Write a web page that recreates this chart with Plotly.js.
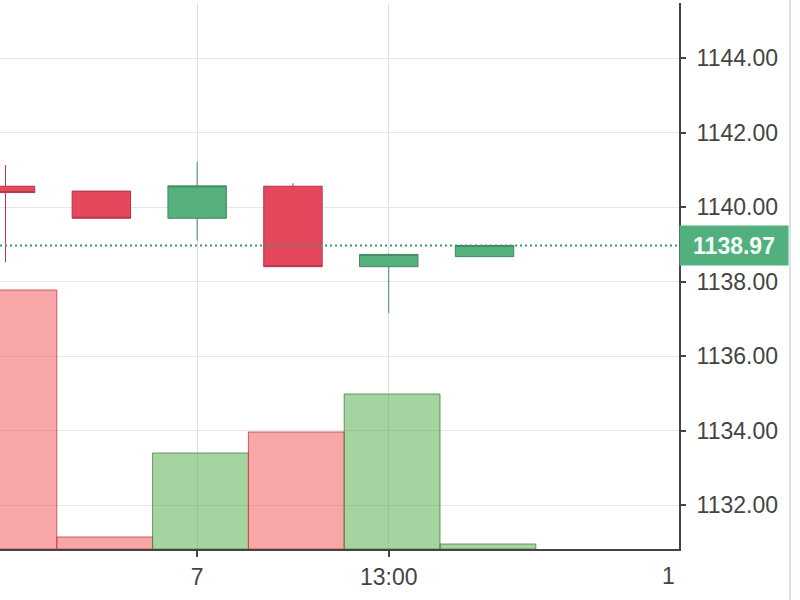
<!DOCTYPE html>
<html>
<head>
<meta charset="utf-8">
<script src="https://cdn.plot.ly/plotly-3.0.1.min.js"></script>
<style>
  html, body { margin: 0; padding: 0; background: #fff; }
  #graph { width: 800px; height: 600px; }
</style>
</head>
<body>
<div id="graph"></div>
<script>
// candle slots (index along the time axis)
var slots = [0, 1, 2, 3, 4, 5];
var open  = [1140.56, 1140.43, 1139.70, 1140.56, 1138.40, 1138.67];
var high  = [1141.13, 1140.43, 1141.21, 1140.64, 1138.75, 1138.97];
var low   = [1138.52, 1139.70, 1139.10, 1138.40, 1137.15, 1138.67];
var close = [1140.39, 1139.70, 1140.57, 1138.40, 1138.73, 1138.97];
var volume = [2590, 120, 960, 1170, 1550, 50];

var tickPos = [2, 4];
var tickText = ['7', '13:00'];
var edgePos = [6.92];
var edgeText = ['1'];
var priceTicks = [1132, 1134, 1136, 1138, 1140, 1142, 1144];
var lastPrice = close[close.length - 1];

var font = '"Liberation Sans", Arial, sans-serif';
var graph = document.getElementById('graph');

var volColors = [], volLines = [];
for (var i = 0; i < slots.length; i++) {
  var up = close[i] >= open[i];
  volColors.push(up ? 'rgba(76,170,66,0.5)' : 'rgba(240,80,80,0.5)');
  volLines.push(up ? 'rgba(70,130,60,0.8)' : 'rgba(200,60,60,0.8)');
}

var volTrace = {
  type: 'bar',
  x: slots,
  y: volume,
  width: 1,
  offset: -0.465,
  yaxis: 'y2',
  marker: { color: volColors, line: { color: volLines, width: 1 } },
  hoverinfo: 'skip'
};

var candles = {
  type: 'candlestick',
  x: slots,
  open: open,
  high: high,
  low: low,
  close: close,
  increasing: { fillcolor: '#55b07e', line: { color: '#3f8a60', width: 1 } },
  decreasing: { fillcolor: '#e5475c', line: { color: '#b0364a', width: 1 } },
  whiskerwidth: 0,
  hoverinfo: 'skip'
};

// invisible trace so the overlay axis with the edge label gets drawn
var edgeTrace = {
  type: 'scatter', x: edgePos, y: [lastPrice], xaxis: 'x2',
  mode: 'markers', marker: { opacity: 0 }, hoverinfo: 'skip'
};

var xr = [-0.058, 7.03];

var layout = {
  width: 800,
  height: 600,
  margin: { l: 0, r: 121, t: 3, b: 51 },
  paper_bgcolor: '#fff',
  plot_bgcolor: '#fff',
  showlegend: false,
  boxgap: 0.39,
  boxgroupgap: 0,
  font: { family: font, size: 23, color: '#444' },
  xaxis: {
    type: 'linear',
    range: xr,
    tickvals: tickPos,
    ticktext: tickText,
    ticks: 'outside',
    ticklen: 6,
    tickwidth: 2,
    tickcolor: '#444',
    showline: true,
    linecolor: '#444',
    linewidth: 2,
    showgrid: true,
    gridcolor: '#d8e3e8',
    gridwidth: 1,
    zeroline: false,
    rangeslider: { visible: false },
    fixedrange: true
  },
  xaxis2: {
    type: 'linear',
    range: xr,
    overlaying: 'x',
    anchor: 'y',
    side: 'bottom',
    tickvals: edgePos,
    ticktext: edgeText,
    ticks: 'outside',
    ticklen: 6,
    tickcolor: 'rgba(0,0,0,0)',
    showgrid: false,
    showline: false,
    zeroline: false
  },
  yaxis: {
    side: 'right',
    range: [1130.82, 1145.48],
    tickvals: priceTicks,
    tickformat: '.2f',
    ticks: 'outside',
    ticklen: 5,
    tickwidth: 2,
    tickcolor: '#444',
    showline: true,
    linecolor: '#444',
    linewidth: 2,
    gridcolor: '#e6e6e6',
    zeroline: false,
    ticklabelstandoff: 6,
    fixedrange: true
  },
  yaxis2: {
    overlaying: 'y',
    range: [0, 5460],
    visible: false,
    fixedrange: true
  },
  shapes: [
    {
      type: 'line', xref: 'paper', yref: 'y', layer: 'above',
      x0: 0, x1: 1, y0: lastPrice, y1: lastPrice,
      line: { color: '#3c9a6a', width: 2, dash: '2px,3px' }
    },
    {
      type: 'line', xref: 'paper', yref: 'paper',
      x0: 1.1635, x1: 1.1635, y0: -0.1, y1: 1.01,
      line: { color: '#d6e0ea', width: 2 }
    }
  ],
  annotations: [{
    xref: 'paper', yref: 'y', x: 1, y: lastPrice,
    xanchor: 'left', yanchor: 'middle',
    text: '<b>' + lastPrice.toFixed(2) + '</b>',
    showarrow: false,
    bgcolor: '#52b07e',
    width: 108, height: 39, borderpad: 0,
    font: { family: font, size: 23, color: '#f2fff6' }
  }]
};

Plotly.newPlot(graph, [volTrace, candles, edgeTrace], layout, { displayModeBar: false, staticPlot: true });
</script>
</body>
</html>
